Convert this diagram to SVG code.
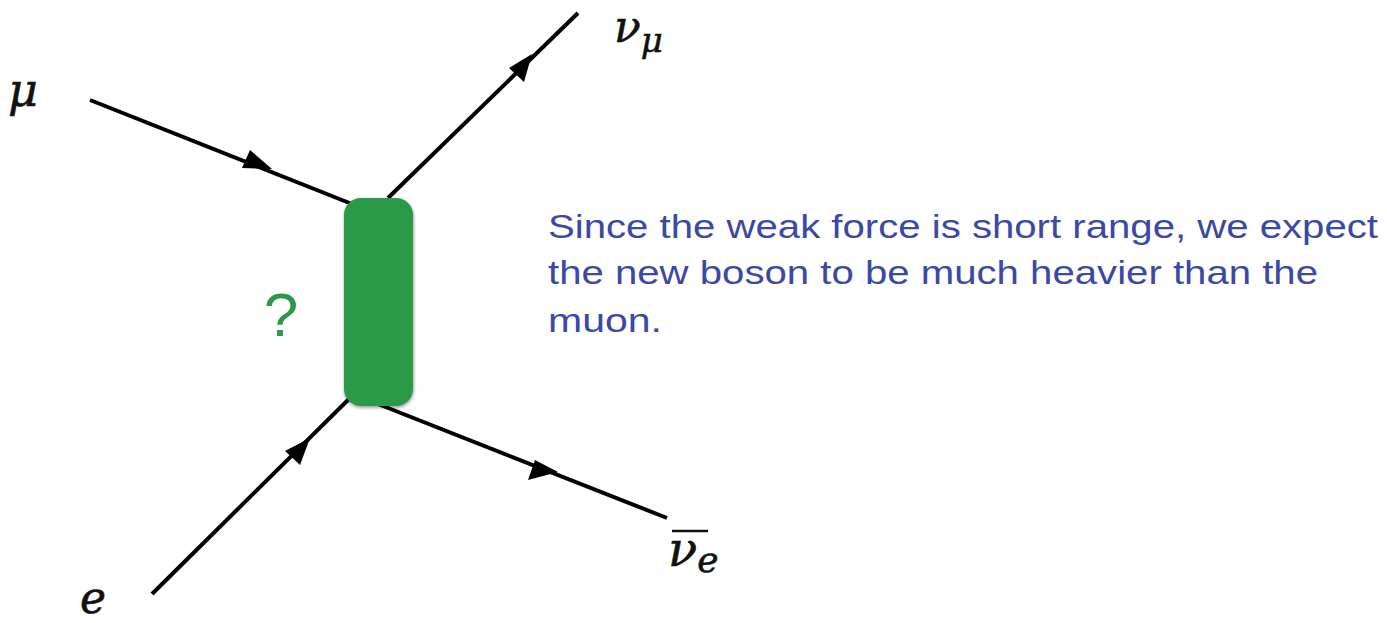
<svg xmlns="http://www.w3.org/2000/svg" width="1387" height="623" viewBox="0 0 1387 623">
<defs>
<style>
.line{stroke:#000;stroke-width:4;fill:none;stroke-linecap:butt}
.arr{fill:#000}
.math{font-family:"DejaVu Serif","Liberation Serif",serif;font-style:italic;fill:#111;stroke:#111;stroke-width:0.6}
.note{font-family:"Liberation Sans",Arial,sans-serif;font-size:34px;fill:#3a48a6}
</style>
<filter id="blur" x="-20%" y="-20%" width="140%" height="140%"><feGaussianBlur stdDeviation="1.5"/></filter>
</defs>
<rect width="1387" height="623" fill="#fff"/>
<g id="connectors">
<line class="line" x1="90" y1="100" x2="352" y2="204"/>
<polygon class="arr" points="272,169 242,168 250,150" />
<line class="line" x1="388" y1="198" x2="578" y2="13"/>
<polygon class="arr" points="532,54 524,82 509,68"/>
<line class="line" x1="152" y1="594" x2="350" y2="398"/>
<polygon class="arr" points="310,438 300,465 285,451"/>
<line class="line" x1="378" y1="404" x2="667" y2="518"/>
<polygon class="arr" points="558,472 528,480 535,460"/>
</g>
<g id="boson">
<rect x="344" y="199" width="70" height="209" rx="18" fill="#000" opacity="0.35" filter="url(#blur)"/>
<rect x="344" y="198" width="69" height="208" rx="17" fill="#2a9a48"/>
<text x="281" y="336" font-family="Liberation Sans,Arial,sans-serif" font-size="62" fill="#2a9a48" text-anchor="middle">?</text>
</g>
<g id="mu"><text class="math" x="8" y="106" font-size="46">μ</text></g>
<g id="numu"><text class="math" x="614" y="42" font-size="44">ν<tspan font-size="34" dy="10">μ</tspan></text></g>
<g id="nuebar">
<line x1="672" y1="531" x2="708" y2="531" stroke="#111" stroke-width="2.5"/>
<text class="math" x="668" y="566" font-size="48">ν<tspan font-size="36" dy="6">e</tspan></text>
</g>
<g id="e"><text class="math" x="80" y="613" font-size="44">e</text></g>
<g id="note">
<text class="note" x="548" y="238" textLength="830" lengthAdjust="spacingAndGlyphs">Since the weak force is short range, we expect</text>
<text class="note" x="548" y="284" textLength="770" lengthAdjust="spacingAndGlyphs">the new boson to be much heavier than the</text>
<text class="note" x="548" y="332" textLength="114" lengthAdjust="spacingAndGlyphs">muon.</text>
</g>
</svg>
